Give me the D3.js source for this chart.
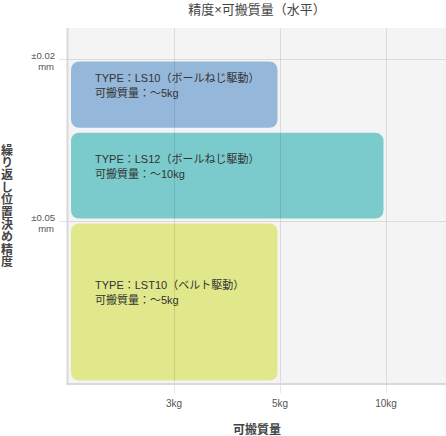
<!DOCTYPE html>
<html>
<head>
<meta charset="utf-8">
<script src="https://cdn.jsdelivr.net/npm/d3@7"></script>
<style>
  html, body { margin: 0; padding: 0; background: #fff; }
  svg { display: block; font-family: "Liberation Sans", "Noto Sans CJK JP", sans-serif; }
</style>
</head>
<body>
<div class="chart"></div>
<script>
// tick labels (x is an ordinal step: 0, 3kg, 5kg, 10kg)
const xTickLabels = ["3kg", "5kg", "10kg"];
const xTickIndex = [1, 2, 3];
const yTickLabels = ["±0.02", "±0.05"];
const yTickIndex = [1, 2];

// boxes
const types = ["LS10", "LS12", "LST10"];
const drives = ["ボールねじ駆動", "ボールねじ駆動", "ベルト駆動"];
const payloads = ["〜5kg", "〜10kg", "〜5kg"];
const xEnd = [2, 3, 2];
const yStart = [1, 1.44, 2];
const yEnd = [1.44, 2, 3];
const colors = ["#95b7da", "#7bcbcd", "#e1e78b"];

const totalWidth = 446, totalHeight = 436;
const margin = {top: 28, right: 0, bottom: 52, left: 68};

const x = d3.scaleLinear()
  .domain([0, 3])
  .range([margin.left, 386]);

const y = d3.scaleLinear()
  .domain([1, 2])
  .range([59, 221]);

const plotBottom = totalHeight - margin.bottom;

const svg = d3.select('.chart').append('svg')
  .attr('width', totalWidth).attr('height', totalHeight);

// plot background
svg.append('rect')
  .attr('x', margin.left).attr('y', margin.top)
  .attr('width', totalWidth - margin.left).attr('height', plotBottom - margin.top)
  .attr('fill', '#f4f4f4');

// boxes
const boxes = types.map((t, i) => ({
  type: t, drive: drives[i], payload: payloads[i],
  x0: 0, x1: xEnd[i], y0: yStart[i], y1: yEnd[i], color: colors[i]
}));

const pad = 2.5;
svg.append('g').selectAll('rect')
  .data(boxes)
  .join('rect')
    .attr('x', d => x(d.x0) + pad + 0.5)
    .attr('y', d => y(d.y0) + pad)
    .attr('width', d => x(d.x1) - x(d.x0) - 2 * pad - 0.5)
    .attr('height', d => y(d.y1) - y(d.y0) - 2 * pad)
    .attr('rx', 8)
    .attr('fill', d => d.color);

// gridlines on top (semi-transparent)
svg.append('g')
  .selectAll('line')
  .data(xTickIndex)
  .join('line')
    .attr('x1', d => x(d) + 0.5).attr('x2', d => x(d) + 0.5)
    .attr('y1', margin.top).attr('y2', plotBottom + 9)
    .attr('stroke', 'rgba(0,0,0,0.1)');

svg.append('g')
  .selectAll('line')
  .data(yTickIndex)
  .join('line')
    .attr('x1', margin.left - 9).attr('x2', totalWidth)
    .attr('y1', d => y(d) + 0.5).attr('y2', d => y(d) + 0.5)
    .attr('stroke', 'rgba(0,0,0,0.1)');

// axis lines
svg.append('line')
  .attr('x1', margin.left - 0.5).attr('x2', margin.left - 0.5)
  .attr('y1', margin.top).attr('y2', plotBottom + 1)
  .attr('stroke', '#d9d9d9').attr('stroke-width', 2);
svg.append('line')
  .attr('x1', margin.left - 1.5).attr('x2', totalWidth)
  .attr('y1', plotBottom).attr('y2', plotBottom)
  .attr('stroke', '#d9d9d9').attr('stroke-width', 2);

// box labels
const label = svg.append('g').selectAll('text')
  .data(boxes)
  .join('text')
    .attr('font-size', '11px')
    .attr('fill', '#333')
    .attr('x', d => x(d.x0) + 27)
    .attr('y', d => (y(d.y0) + y(d.y1)) / 2 - 13);
label.append('tspan').text(d => `TYPE：${d.type}（${d.drive}）`);
label.append('tspan')
  .attr('x', d => x(d.x0) + 27).attr('dy', 15)
  .text(d => `可搬質量：${d.payload}`);

// x tick labels
svg.append('g').selectAll('text')
  .data(xTickLabels)
  .join('text')
    .attr('x', (d, i) => x(xTickIndex[i]))
    .attr('y', 407)
    .attr('text-anchor', 'middle')
    .attr('font-size', '10px')
    .attr('fill', '#555')
    .text(d => d);

// y tick labels
const yl = svg.append('g').selectAll('text')
  .data(yTickLabels)
  .join('text')
    .attr('text-anchor', 'end')
    .attr('font-size', '9.5px')
    .attr('fill', '#555')
    .attr('y', (d, i) => y(yTickIndex[i]));
yl.append('tspan').attr('x', 55).text(d => d);
yl.append('tspan').attr('x', 54).attr('dy', 11).text('mm');

// titles
svg.append('text')
  .attr('x', (margin.left + totalWidth) / 2)
  .attr('y', 14)
  .attr('text-anchor', 'middle')
  .attr('font-size', '13px')
  .attr('fill', '#444')
  .text('精度×可搬質量（水平）');

svg.append('text')
  .attr('x', (margin.left + totalWidth) / 2)
  .attr('y', 434)
  .attr('text-anchor', 'middle')
  .attr('font-size', '12px')
  .attr('font-weight', 'bold')
  .attr('fill', '#444')
  .text('可搬質量');

svg.append('text')
  .attr('x', 7)
  .attr('y', (margin.top + plotBottom) / 2)
  .attr('text-anchor', 'middle')
  .attr('writing-mode', 'vertical-rl')
  .attr('font-family', '"Noto Sans CJK JP", sans-serif')
  .attr('font-size', '12px')
  .attr('letter-spacing', '0.4px')
  .attr('font-weight', 'bold')
  .attr('fill', '#444')
  .text('繰り返し位置決め精度');
</script>
</body>
</html>
